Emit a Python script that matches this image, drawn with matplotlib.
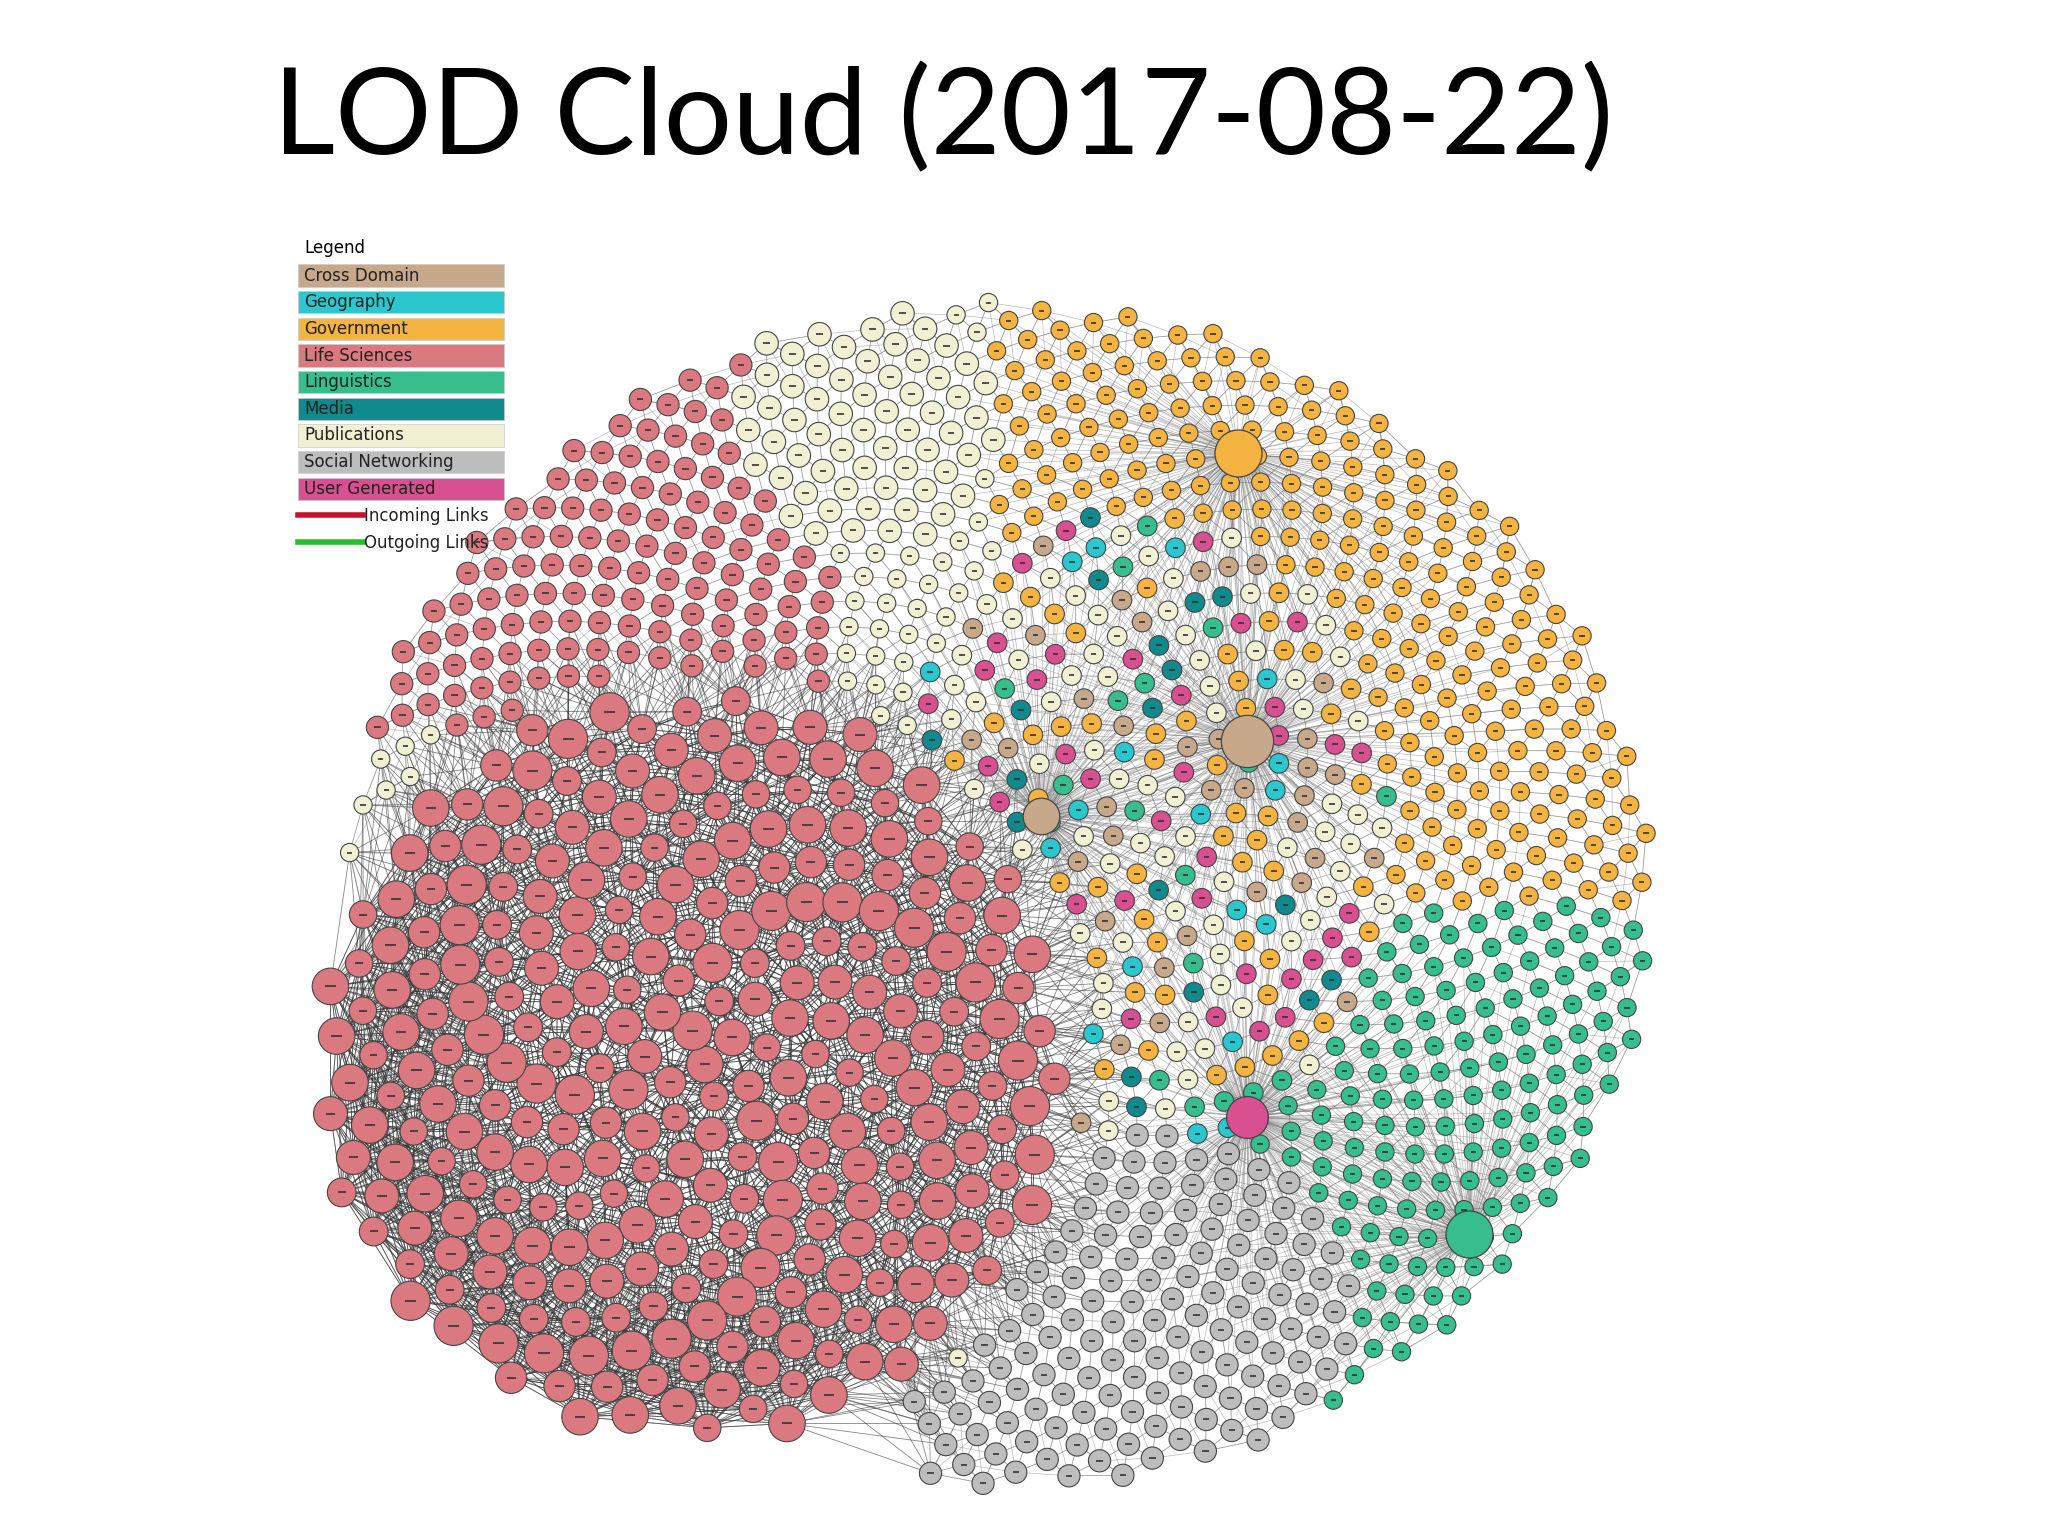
import numpy as np
import matplotlib
matplotlib.use("Agg")
import matplotlib.pyplot as plt
from matplotlib.collections import LineCollection

# ---- data ----
legend_labels = ["Cross Domain", "Geography", "Government", "Life Sciences", "Linguistics",
                 "Media", "Publications", "Social Networking", "User Generated"]
legend_colors = ["#C8A88A", "#2BC7CF", "#F5B342", "#DA7A80", "#36BE8E",
                 "#108A8C", "#F2F0D3", "#BDBDBD", "#D8508F"]
link_labels = ["Incoming Links", "Outgoing Links"]
link_colors = ["#C8102E", "#22C02A"]
title_text = "LOD Cloud (2017-08-22)"
mixed_cycle = ["Publications", "Government", "Geography", "User Generated", "Media",
               "Cross Domain", "Publications", "Linguistics", "Government", "User Generated",
               "Publications", "Cross Domain", "Government", "Publications"]
life_count = 300
cloud_count = 1500
hub_names = ["Cross Domain", "Linguistics", "Government", "User Generated", "Cross Domain"]
hub_xy = [(955, 567), (1125, 945), (948, 347), (955, 855), (797, 625)]
hub_r = [20, 18, 18, 16, 14]

col = dict(zip(legend_labels, legend_colors))
S = 2048 / 1568
def msize(r):
    return (2 * r * S * 0.72) ** 2

fig = plt.figure(figsize=(20.48, 15.36), dpi=100)
ax = fig.add_axes([0, 0, 1, 1])
ax.set_xlim(0, 1568); ax.set_ylim(1176, 0); ax.axis("off")

ga = np.pi * (3 - np.sqrt(5))
lc, LR = np.array([528, 815]), 285
i = np.arange(life_count)
r = LR * np.sqrt((i + 0.5) / life_count); t = i * ga
life = np.c_[lc[0] + r * np.cos(t), lc[1] + r * np.sin(t)]
life_r = np.array([14, 12, 15, 11, 13, 14, 10.5])[i % 7].astype(float)

i = np.arange(cloud_count)
r = np.sqrt((i + 0.5) / cloud_count); t = i * ga
pts = np.c_[765 + 500 * r * np.cos(t), 685 + 455 * r * np.sin(t)]
keep = np.hypot(pts[:, 0] - lc[0], pts[:, 1] - lc[1]) > LR + 18
keep &= ~((pts[:, 0] < 700) & (pts[:, 1] > 1000))
pts = pts[keep]
cats, rads = [], []
k = 0
for x, y in pts:
    if np.hypot(x - 665, y - 320) < 100:
        c, rr = "Publications", 9
    elif np.hypot((x - 885) / 150, (y - 1005) / 140) < 1 or (y > 1040 and x < 1000):
        c, rr = "Social Networking", 8.5
    elif np.hypot((x - 875) / 190, (y - 640) / 250) < 1:
        c = mixed_cycle[k % len(mixed_cycle)]; k += 1; rr = 7.5
    elif x < 640 and y < 560:
        c, rr = "Life Sciences", 8.5
    elif y > 690 and x > 960:
        c, rr = "Linguistics", 7
    elif x > 760:
        c, rr = "Government", 7
    else:
        c, rr = "Publications", 7
    cats.append(c); rads.append(rr)
rads = np.array(rads, float)

allp = np.vstack([life, pts])
allc = ["Life Sciences"] * len(life) + cats
allr = np.r_[life_r, rads]

D = np.hypot(allp[:, None, 0] - allp[None, :, 0], allp[:, None, 1] - allp[None, :, 1])
segs, dark = [], []
n_life = len(life)
for a in range(len(allp)):
    kk = 30 if a < n_life else 6
    nb = np.argsort(D[a])[1:kk + 1]
    for b in nb:
        (dark if a < n_life else segs).append([allp[a], allp[b]])
for (hx, hy) in hub_xy:
    d = np.hypot(pts[:, 0] - hx, pts[:, 1] - hy)
    for p in pts[d < 220]:
        segs.append([(hx, hy), p])
ax.add_collection(LineCollection(dark, colors="#353535", linewidths=0.6, alpha=0.6, zorder=1))
ax.add_collection(LineCollection(segs, colors="#777777", linewidths=0.5, alpha=0.5, zorder=1))

ax.scatter(allp[:, 0], allp[:, 1], s=msize(allr), c=[col[c] for c in allc],
           edgecolors="#444444", linewidths=0.8, zorder=3)
ax.scatter(allp[:, 0], allp[:, 1], s=msize(allr) * 0.08, marker="_", c="#333333",
           linewidths=1.2, zorder=4)
for (hx, hy), hn, hr in zip(hub_xy, hub_names, hub_r):
    ax.scatter([hx], [hy], s=msize(hr), c=col[hn], edgecolors="#444444", linewidths=0.9, zorder=5)

ax.text(722, 92, title_text, fontsize=87, family="Lato", ha="center", va="center")

ax.text(233, 190, "Legend", fontsize=12, va="center", family="DejaVu Sans")
for j, (lab, c) in enumerate(zip(legend_labels, legend_colors)):
    y = 211 + j * 20.4
    ax.add_patch(plt.Rectangle((228, y - 8.5), 158, 17, facecolor=c, edgecolor="#cccccc", lw=0.5))
    ax.text(233, y, lab, fontsize=12, va="center", family="DejaVu Sans", color="#222222")
for j, (lab, c) in enumerate(zip(link_labels, link_colors)):
    y = 394 + j * 21
    ax.plot([228, 278], [y, y], color=c, lw=4)
    ax.text(279, y + 1, lab, fontsize=12, va="center", family="DejaVu Sans", color="#222222")

fig.savefig("out.png", dpi=100, facecolor="white")
